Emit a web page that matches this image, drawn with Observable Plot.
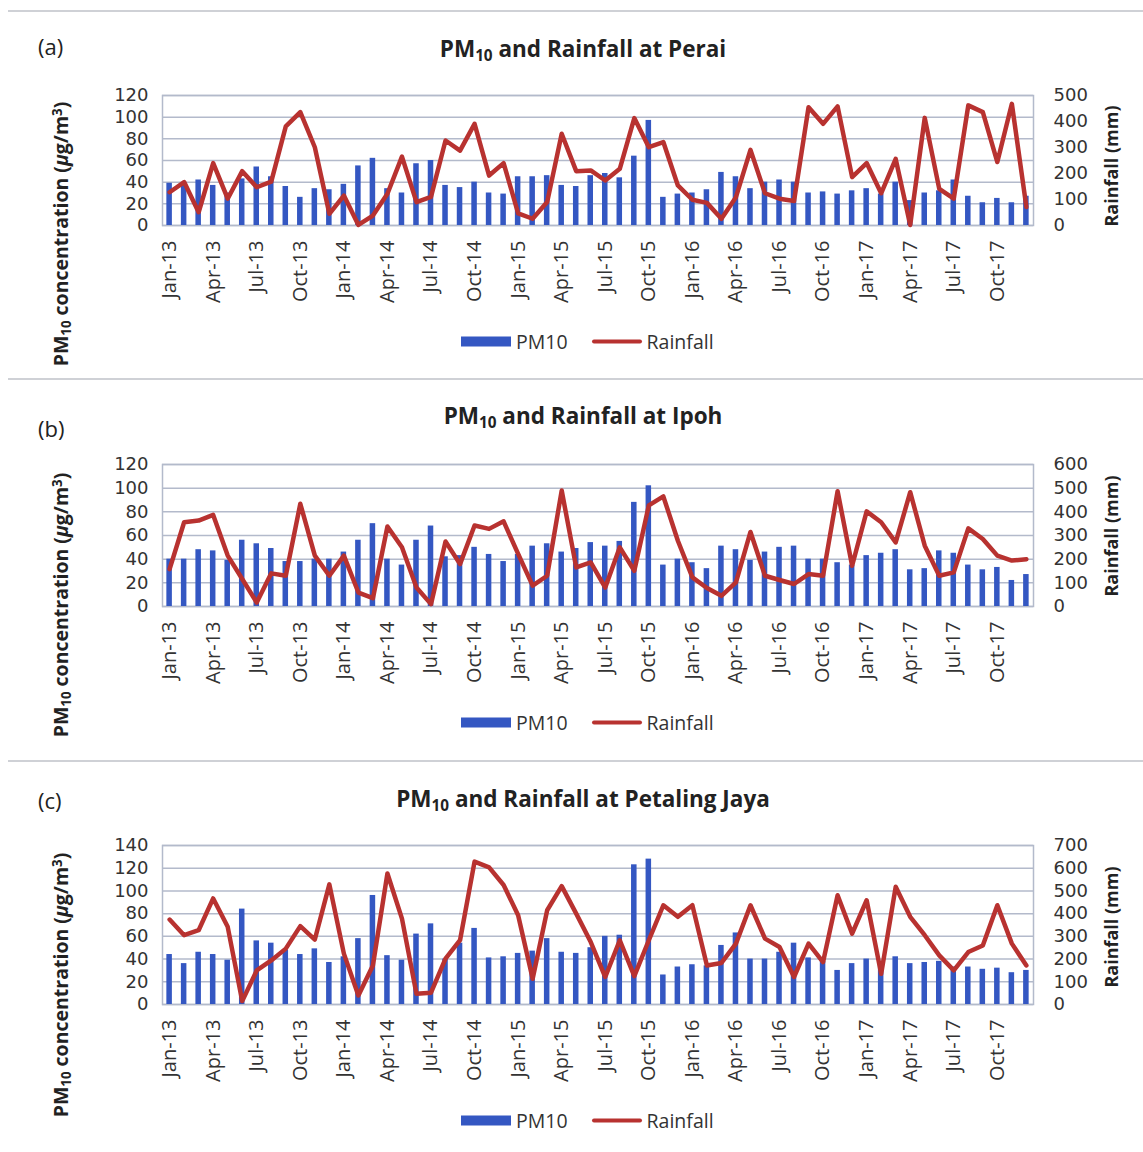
<!DOCTYPE html>
<html>
<head>
<meta charset="utf-8">
<script src="https://cdn.jsdelivr.net/npm/d3@7"></script>
<script src="https://cdn.jsdelivr.net/npm/@observablehq/plot@0.6"></script>
<style>
  body { margin: 0; background: #fff; font-family: "Open Sans", sans-serif; color: #333; }
  #page { position: relative; width: 1143px; height: 1152px; overflow: hidden; background: #fff; }
  .abs { position: absolute; white-space: nowrap; }
  .tag { font-size: 22px; color: #222; transform: translate(0, -50%); }
  .title { font-size: 22.5px; font-weight: bold; color: #222; transform: translate(-50%, -50%); }
  .ytitle { font-size: 19.5px; font-weight: bold; color: #222; transform: translate(-50%, -50%) rotate(-90deg); }
  sub { font-size: 0.68em; vertical-align: -0.3em; line-height: 0; }
  sup { font-size: 0.68em; vertical-align: 0.45em; line-height: 0; }
  .legend { font-size: 19.5px; color: #333; display: flex; align-items: center; transform: translate(0, -50%); }
  .sw-bar { width: 50px; height: 10px; background: #3457c2; margin-right: 5px; }
  .sw-line { width: 50px; height: 4px; background: #b83230; border-radius: 2px; margin-left: 24px; margin-right: 5px; }
  .sep { position: absolute; left: 8px; right: 0; height: 0; border-top: 2px solid #cfd1d6; }
  svg { position: absolute; overflow: visible; }
</style>
</head>
<body>
<div id="page"></div>
<script>
// ---- categories ----
const monthNames = ["Jan","Feb","Mar","Apr","May","Jun","Jul","Aug","Sep","Oct","Nov","Dec"];
const years = ["13","14","15","16","17"];
const months = years.flatMap(y => monthNames.map(m => `${m}-${y}`));
const monthTicks = months.filter((d, i) => i % 3 === 0);

// ---- (a) Perai ----
const peraiPM10 = [39,38,42,37,30,43,54,45,36,26,34,33,38,55,62,34,30,57,60,37,35,40,30,29,45,45,46,37,36,46,48,44,64,97,26,29,30,33,49,45,34,40,42,40,30,31,29,32,34,29,40,23,30,32,42,27,21,25,21,27];
const peraiRain = [128,167,51,240,103,209,147,169,381,436,301,45,115,2,38,122,265,90,110,327,288,391,192,240,47,26,90,353,209,212,173,218,413,301,321,154,99,87,26,109,291,124,103,94,455,391,458,186,240,124,256,2,414,141,103,462,436,244,468,71];
const peraiLeftTicks = [0,20,40,60,80,100,120];
const peraiRightTicks = [0,100,200,300,400,500];

// ---- (b) Ipoh ----
const ipohPM10 = [40,40,48,47,39,56,53,49,38,38,40,40,46,56,70,40,35,56,68,42,43,50,44,38,44,51,53,46,49,54,51,55,88,102,35,40,37,32,51,48,39,46,50,51,40,40,37,35,43,45,48,31,32,47,45,35,31,33,22,27];
const ipohRain = [158,356,363,387,215,116,17,140,130,434,215,130,215,59,35,338,250,80,10,275,179,342,328,360,222,88,130,490,165,186,80,250,151,427,465,278,123,78,45,102,315,130,112,95,137,130,487,172,402,356,271,483,257,130,144,330,285,215,194,200];
const ipohLeftTicks = [0,20,40,60,80,100,120];
const ipohRightTicks = [0,100,200,300,400,500,600];

// ---- (c) Petaling Jaya ----
const pjPM10 = [44,36,46,44,39,84,56,54,48,44,49,37,42,58,96,43,39,62,71,40,54,67,41,42,45,47,58,46,45,50,60,61,123,128,26,33,35,34,52,63,40,40,46,54,41,38,30,36,40,38,42,36,37,38,33,33,31,32,28,30];
const pjRain = [374,305,327,467,342,15,150,194,246,345,286,529,224,40,172,577,378,47,52,202,283,629,604,526,393,113,415,521,400,275,121,283,125,283,437,386,437,172,183,268,437,290,253,121,268,187,481,312,459,135,518,386,305,216,150,231,260,437,268,172];
const pjLeftTicks = [0,20,40,60,80,100,120,140];
const pjRightTicks = [0,100,200,300,400,500,600,700];

const BLUE = "#3457c2", RED = "#b83230", GRID = "#b3bacb";

const panels = [
  {tag: "(a)", site: "Perai", pm: peraiPM10, rain: peraiRain, lt: peraiLeftTicks, rt: peraiRightTicks,
   layout: {gridTop: 95, zero: 225, tagY: 46, titleY: 48, legendY: 341, leftTitleY: 234, rightTitleY: 166, sep: 10}},
  {tag: "(b)", site: "Ipoh", pm: ipohPM10, rain: ipohRain, lt: ipohLeftTicks, rt: ipohRightTicks,
   layout: {gridTop: 464, zero: 606, tagY: 428, titleY: 415, legendY: 722, leftTitleY: 605, rightTitleY: 536, sep: 378}},
  {tag: "(c)", site: "Petaling Jaya", pm: pjPM10, rain: pjRain, lt: pjLeftTicks, rt: pjRightTicks,
   layout: {gridTop: 845, zero: 1004, tagY: 800, titleY: 798, legendY: 1120, leftTitleY: 985, rightTitleY: 927, sep: 760}}
];

const page = document.getElementById("page");
function addDiv(cls, html, left, top) {
  const d = document.createElement("div");
  d.className = "abs " + cls;
  d.innerHTML = html;
  d.style.left = left + "px";
  d.style.top = top + "px";
  page.appendChild(d);
  return d;
}

for (const p of panels) {
  const L = p.layout;
  const sep = document.createElement("div");
  sep.className = "sep";
  sep.style.top = L.sep + "px";
  page.appendChild(sep);

  addDiv("tag", p.tag, 38, L.tagY);
  addDiv("title", `PM<sub>10</sub> and Rainfall at ${p.site}`, 583, L.titleY);
  addDiv("ytitle", `PM<sub>10</sub> concentration (<i>μ</i>g/m<sup>3</sup>)`, 60, L.leftTitleY);
  addDiv("ytitle", `Rainfall (mm)`, 1111, L.rightTitleY).style.fontSize = "18px";
  addDiv("legend", `<span class="sw-bar"></span><span>PM10</span><span class="sw-line"></span><span>Rainfall</span>`, 461, L.legendY);

  const leftMax = p.lt[p.lt.length - 1];
  const rightMax = p.rt[p.rt.length - 1];
  const k = leftMax / rightMax;
  const data = months.map((m, i) => ({month: m, pm: p.pm[i], rain: p.rain[i]}));
  const plotH = L.zero - L.gridTop;
  const mt = 10, mb = 100;

  const chart = Plot.plot({
    width: 1143,
    height: mt + plotH + mb,
    marginTop: mt, marginBottom: mb, marginLeft: 162, marginRight: 110,
    style: {fontFamily: "Open Sans, sans-serif", fontSize: "19px", color: "#333", background: "transparent", overflow: "visible"},
    x: {domain: months, paddingInner: 0.62, paddingOuter: 0.3, label: null},
    y: {domain: [0, leftMax], label: null},
    marks: [
      Plot.ruleY(p.lt, {stroke: GRID, strokeWidth: 1.5}),
      Plot.frame({stroke: GRID, strokeWidth: 1.5}),
      Plot.barY(data, {x: "month", y: "pm", fill: BLUE}),
      Plot.lineY(data, {x: "month", y: d => d.rain * k, stroke: RED, strokeWidth: 4.5, strokeLinejoin: "round", strokeLinecap: "round"}),
      Plot.axisY({ticks: p.lt, tickSize: 0, tickPadding: 14, label: null, fontSize: 18, fontFamily: "DejaVu Sans", fill: "#333"}),
      Plot.axisY({anchor: "right", ticks: p.rt.map(v => v * k), tickFormat: v => String(Math.round(v / k)), tickSize: 0, tickPadding: 20, label: null, fontSize: 18, fontFamily: "DejaVu Sans", fill: "#333"}),
      Plot.axisX({ticks: monthTicks, tickRotate: -90, tickSize: 0, tickPadding: 15, label: null, fontSize: 20, fill: "#333"})
    ]
  });
  chart.style.left = "0px";
  chart.style.top = (L.gridTop - mt) + "px";
  page.appendChild(chart);
}
</script>
</body>
</html>
